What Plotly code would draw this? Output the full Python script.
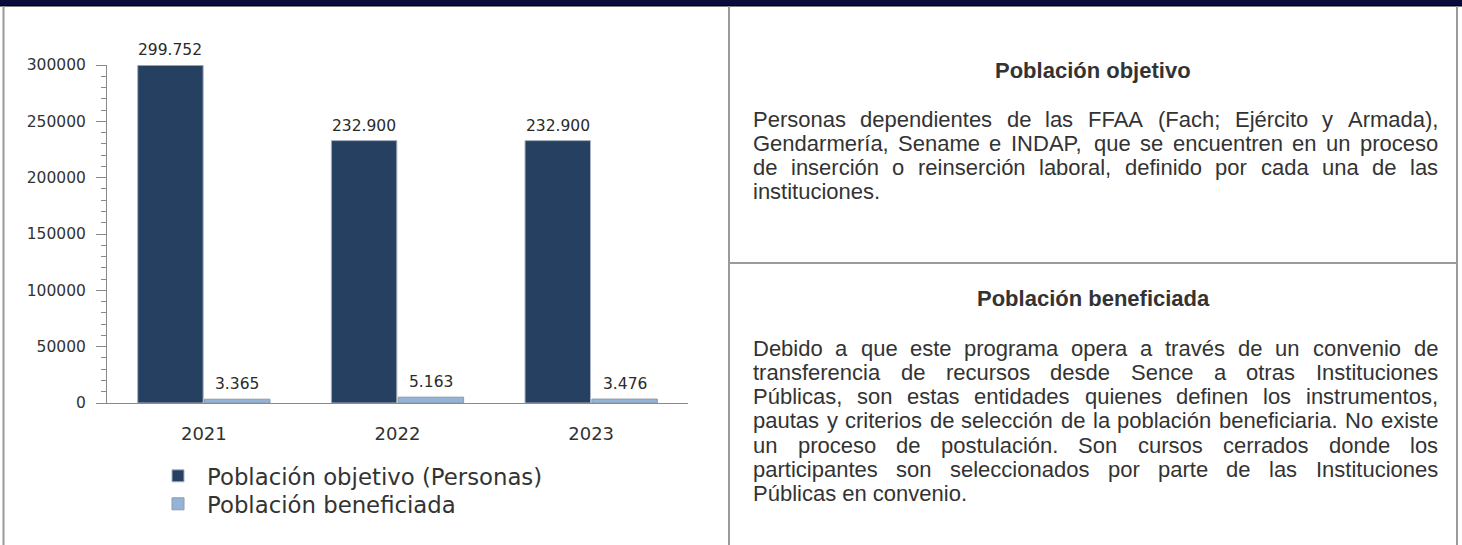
import plotly.graph_objects as go

# ---------------- data ----------------
years = [2021, 2022, 2023]
year_labels = ["2021", "2022", "2023"]
objetivo = [299752, 232900, 232900]
beneficiada = [3365, 5163, 3476]
series_names = ["Población objetivo (Personas)", "Población beneficiada"]
y_tickvals = [0, 50000, 100000, 150000, 200000, 250000, 300000]

title_obj = "Población objetivo"
lines_obj = [
    "Personas dependientes de las FFAA (Fach; Ejército y Armada),",
    "Gendarmería, Sename e INDAP, que se encuentren en un proceso",
    "de inserción o reinserción laboral, definido por cada una de las",
    "instituciones.",
]
title_ben = "Población beneficiada"
lines_ben = [
    "Debido a que este programa opera a través de un convenio de",
    "transferencia de recursos desde Sence a otras Instituciones",
    "Públicas, son estas entidades quienes definen los instrumentos,",
    "pautas y criterios de selección de la población beneficiaria. No existe",
    "un proceso de postulación. Son cursos cerrados donde los",
    "participantes son seleccionados por parte de las Instituciones",
    "Públicas en convenio.",
]

# ---------------- styling ----------------
W, H = 1462, 545
DARK = "#254061"
LIGHT = "#95B3D7"
GRAY = "#9a9a9a"
TXT = "#333333"
CHART_FONT = "DejaVu Sans"
BODY_FONT = "Liberation Sans"
BODY_SIZE = 22
LINE_H = 24.3

def X(px):
    return px / W

def Y(py):
    return 1 - py / H

def fmt(v):
    return f"{v:,}".replace(",", ".")

# Arial / Liberation Sans advance widths (per 1000 em)
AW = {' ': 278, 'a': 556, 'b': 556, 'c': 500, 'd': 556, 'e': 556, 'f': 278, 'g': 556,
      'h': 556, 'i': 222, 'j': 222, 'k': 500, 'l': 222, 'm': 833, 'n': 556, 'o': 556,
      'p': 556, 'q': 556, 'r': 333, 's': 500, 't': 278, 'u': 556, 'v': 500, 'w': 722,
      'x': 500, 'y': 500, 'z': 500, 'A': 667, 'B': 667, 'C': 722, 'D': 722, 'E': 667,
      'F': 611, 'G': 778, 'H': 722, 'I': 278, 'J': 500, 'K': 667, 'L': 556, 'M': 833,
      'N': 722, 'O': 778, 'P': 667, 'Q': 778, 'R': 722, 'S': 667, 'T': 611, 'U': 722,
      'V': 667, 'W': 944, 'X': 667, 'Y': 667, 'Z': 611, ',': 278, '.': 278, ';': 278,
      ':': 278, '(': 333, ')': 333, 'á': 556, 'é': 556, 'í': 278, 'ó': 556, 'ú': 556,
      'ñ': 556, 'Á': 667, 'É': 667, 'Ó': 778, 'Ú': 722}

def text_w(s, size):
    return sum(AW.get(c, 556) for c in s) * size / 1000.0

fig = go.Figure()
fig.add_trace(go.Bar(x=years, y=objetivo, name=series_names[0], legend="legend",
                     marker=dict(color=DARK, line=dict(color="#a8b2c0", width=1))))
fig.add_trace(go.Bar(x=years, y=beneficiada, name=series_names[1], legend="legend2",
                     marker=dict(color=LIGHT, line=dict(color="#8e9aa8", width=1))))

# plot area geometry (pixels)
PX0, PX1 = 107, 688
PY_TOP, PY_BOT = 65, 403
BARGAP = 0.31
slot = (PX1 - PX0) / len(years)
bar_w = slot * (1 - BARGAP) / 2

annotations = []
for vals, sign in ((objetivo, -1), (beneficiada, 1)):
    for yr, v in zip(years, vals):
        annotations.append(dict(x=yr, y=v, xref="x", yref="y", text=fmt(v),
                                showarrow=False, xanchor="center", yanchor="bottom",
                                xshift=sign * bar_w / 2, yshift=4,
                                font=dict(family=CHART_FONT, size=15.5, color="#2a2a2a")))

# right panel text (justified by placing each word)
L_TEXT, R_TEXT = 752, 1437
CX = (729 + 1457) / 2

def word_ann(px, py, s):
    return dict(x=X(px), y=Y(py), xref="paper", yref="paper", text=s,
                showarrow=False, xanchor="left", yanchor="middle", borderpad=0,
                font=dict(family=BODY_FONT, size=BODY_SIZE, color=TXT))

def add_block(title, title_y, lines, first_y):
    annotations.append(dict(x=X(CX), y=Y(title_y), xref="paper", yref="paper",
                            text="<b>" + title + "</b>", showarrow=False,
                            xanchor="center", yanchor="middle",
                            font=dict(family=BODY_FONT, size=BODY_SIZE, color=TXT)))
    for i, line in enumerate(lines):
        py = first_y + i * LINE_H
        words = line.split()
        if i == len(lines) - 1 or len(words) == 1:
            annotations.append(word_ann(L_TEXT, py, line))
            continue
        widths = [text_w(w, BODY_SIZE) for w in words]
        gap = (R_TEXT - L_TEXT - sum(widths)) / (len(words) - 1)
        xpos = L_TEXT
        for j, w in enumerate(words):
            annotations.append(word_ann(xpos, py, w))
            xpos += widths[j] + gap

add_block(title_obj, 70, lines_obj, 119)
add_block(title_ben, 298, lines_ben, 348)

shapes = [
    dict(type="rect", xref="paper", yref="paper", x0=0, x1=1, y0=Y(5), y1=1,
         fillcolor="#0b0b3a", line=dict(width=0), layer="above"),
    dict(type="rect", xref="paper", yref="paper", x0=0, x1=1, y0=Y(6.5), y1=Y(5),
         fillcolor="#000000", line=dict(width=0), layer="above"),
    dict(type="line", xref="paper", yref="paper", x0=X(3.5), x1=X(3.5), y0=0, y1=Y(6),
         line=dict(color=GRAY, width=2)),
    dict(type="line", xref="paper", yref="paper", x0=X(729), x1=X(729), y0=0, y1=Y(6),
         line=dict(color=GRAY, width=2)),
    dict(type="line", xref="paper", yref="paper", x0=X(1457), x1=X(1457), y0=0, y1=Y(6),
         line=dict(color=GRAY, width=2)),
    dict(type="line", xref="paper", yref="paper", x0=X(729), x1=X(1457), y0=Y(263), y1=Y(263),
         line=dict(color=GRAY, width=2)),
]

legend_style = dict(xanchor="left", yanchor="top",
                    font=dict(family=CHART_FONT, size=22.8, color=TXT),
                    itemwidth=48, bgcolor="rgba(0,0,0,0)")

fig.update_layout(
    width=W, height=H, autosize=False,
    margin=dict(l=0, r=0, t=0, b=0, pad=0, autoexpand=False),
    paper_bgcolor="white", plot_bgcolor="white",
    barmode="group", bargap=BARGAP, bargroupgap=0.02,
    showlegend=True,
    legend=dict(x=X(149), y=Y(454.5), **legend_style),
    legend2=dict(x=X(149), y=Y(482.5), **legend_style),
    xaxis=dict(domain=[X(PX0), X(PX1)], type="linear",
               range=[years[0] - 0.5, years[-1] + 0.5],
               tickmode="array", tickvals=years, ticktext=year_labels,
               showline=True, linecolor="#8a8a8a", linewidth=1,
               ticks="outside", ticklen=14, tickcolor="rgba(0,0,0,0)",
               showgrid=False, zeroline=False, automargin=False,
               tickfont=dict(family=CHART_FONT, size=18, color=TXT)),
    yaxis=dict(domain=[Y(PY_BOT), Y(PY_TOP)], range=[0, 300000], showline=True,
               linecolor="#8a8a8a", linewidth=1, ticks="outside", ticklen=10,
               tickcolor="#8a8a8a", tickmode="array", tickvals=y_tickvals,
               tickformat=".0f", ticklabelstandoff=7, automargin=False,
               showgrid=False, zeroline=False,
               minor=dict(dtick=10000, tick0=0, ticks="outside", ticklen=5,
                          tickcolor="#8a8a8a", showgrid=False),
               tickfont=dict(family=CHART_FONT, size=15.5, color=TXT)),
    annotations=annotations,
    shapes=shapes,
)

fig.write_html("out.html", config={"displayModeBar": False},
               post_script="document.body.style.margin='0';document.body.style.overflow='hidden';")
